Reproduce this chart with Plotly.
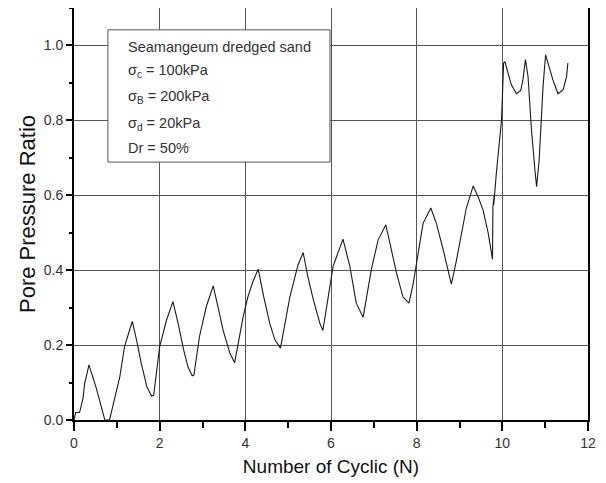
import plotly.graph_objects as go

# Cyclic number (N) and pore pressure ratio
cycles = [
    0.00, 0.04, 0.13, 0.21, 0.25, 0.35, 0.52, 0.64, 0.72, 0.83,
    0.95, 1.07, 1.18, 1.36,
    1.46, 1.57, 1.70, 1.81, 1.86,
    2.00, 2.16, 2.31,
    2.43, 2.56, 2.66, 2.76, 2.80,
    2.93, 3.09, 3.25,
    3.36, 3.48, 3.64, 3.75,
    3.95, 4.06, 4.18, 4.30,
    4.43, 4.57, 4.69, 4.82,
    5.04, 5.23, 5.35,
    5.46, 5.58, 5.74, 5.81,
    5.93, 6.05, 6.13, 6.28,
    6.44, 6.59, 6.75,
    6.94, 7.10, 7.28,
    7.41, 7.53, 7.68, 7.82,
    7.92, 8.03, 8.15, 8.33,
    8.46, 8.62, 8.73, 8.81,
    8.93, 9.05, 9.16, 9.32,
    9.43, 9.55, 9.67, 9.77,
    9.77, 9.78, 9.81, 9.80, 9.86, 9.98, 10.01, 10.03, 10.06,
    10.13, 10.21, 10.33, 10.43, 10.48, 10.54,
    10.60, 10.68, 10.76, 10.80,
    10.86, 10.91, 10.95, 11.01,
    11.09, 11.18, 11.30, 11.42, 11.50, 11.53,
]
pore_ratio = [
    0.000, 0.020, 0.020, 0.058, 0.098, 0.147, 0.085, 0.031, 0.000, 0.000,
    0.062, 0.116, 0.196, 0.263,
    0.214, 0.151, 0.089, 0.064, 0.066,
    0.196, 0.267, 0.316,
    0.258, 0.187, 0.142, 0.118, 0.120,
    0.223, 0.303, 0.358,
    0.303, 0.240, 0.178, 0.153,
    0.276, 0.329, 0.370, 0.403,
    0.329, 0.258, 0.214, 0.192,
    0.329, 0.414, 0.447,
    0.383, 0.325, 0.258, 0.239,
    0.320, 0.411, 0.436, 0.483,
    0.410, 0.312, 0.274,
    0.401, 0.481, 0.521,
    0.454, 0.392, 0.329, 0.312,
    0.365, 0.445, 0.525, 0.566,
    0.525, 0.454, 0.401, 0.363,
    0.427, 0.499, 0.566, 0.625,
    0.597, 0.561, 0.499, 0.429,
    0.499, 0.570, 0.601, 0.575, 0.659, 0.800, 0.890, 0.953, 0.957,
    0.926, 0.895, 0.871, 0.880, 0.908, 0.962,
    0.917, 0.775, 0.668, 0.623,
    0.695, 0.800, 0.890, 0.975,
    0.944, 0.908, 0.871, 0.882, 0.917, 0.953,
]

x_ticks = [0, 2, 4, 6, 8, 10, 12]
y_ticks = [0.0, 0.2, 0.4, 0.6, 0.8, 1.0]
y_tick_labels = ["0.0", "0.2", "0.4", "0.6", "0.8", "1.0"]

info_lines = [
    "Seamangeum dredged sand",
    "σ<sub>c</sub> = 100kPa",
    "σ<sub>B</sub> = 200kPa",
    "σ<sub>d</sub> = 20kPa",
    "Dr = 50%",
]
info_y = [0.906, 0.848, 0.784, 0.719, 0.661]

FONT = "Liberation Sans, Arial, sans-serif"

fig = go.Figure()
fig.add_trace(go.Scatter(
    x=cycles, y=pore_ratio, mode="lines",
    line=dict(color="#1a1a1a", width=1.1),
    showlegend=False, hoverinfo="skip",
))

# The page body adds an 8px margin, so the figure is sized to fit the window.
fig.update_layout(
    width=598, height=475,
    margin=dict(l=66, r=18, t=0, b=63),
    paper_bgcolor="white", plot_bgcolor="white",
    font=dict(family=FONT, color="#333"),
    showlegend=False,
)

fig.update_xaxes(
    range=[0, 12], tickvals=x_ticks, ticktext=[str(v) for v in x_ticks],
    showline=True, linecolor="black", linewidth=2, mirror=False,
    ticks="outside", ticklen=9, tickwidth=2, tickcolor="black",
    minor=dict(ticks="outside", ticklen=6, tickwidth=2, tickcolor="black", dtick=1, showgrid=False),
    showgrid=True, gridcolor="#555", gridwidth=1,
    zeroline=False,
    tickfont=dict(family=FONT, size=14, color="#333"),
    title=dict(text="Number of Cyclic (N)", font=dict(family=FONT, size=19, color="#111"), standoff=10),
    automargin=False,
)
fig.update_yaxes(
    range=[0, 1.1], tickvals=y_ticks, ticktext=y_tick_labels,
    showline=True, linecolor="black", linewidth=2, mirror=True,
    ticks="outside", ticklen=6, tickwidth=2, tickcolor="black",
    minor=dict(ticks="outside", ticklen=3, tickwidth=2, tickcolor="black", dtick=0.1, showgrid=False),
    showgrid=True, gridcolor="#555", gridwidth=1,
    zeroline=False,
    tickfont=dict(family=FONT, size=14, color="#333"),
    title=dict(text="Pore Pressure Ratio", font=dict(family=FONT, size=22, color="#111"), standoff=2),
    automargin=False,
)

# Info box
fig.add_shape(
    type="rect", xref="paper", yref="paper",
    x0=0.066, x1=0.498, y0=0.626, y1=0.947,
    line=dict(color="#555", width=1), fillcolor="white", layer="above",
)
for txt, yy in zip(info_lines, info_y):
    fig.add_annotation(
        xref="paper", yref="paper", x=0.101, y=yy,
        xanchor="left", yanchor="middle", showarrow=False,
        text=txt, font=dict(family=FONT, size=14.5, color="#333"),
    )

fig.write_html("out.html")
